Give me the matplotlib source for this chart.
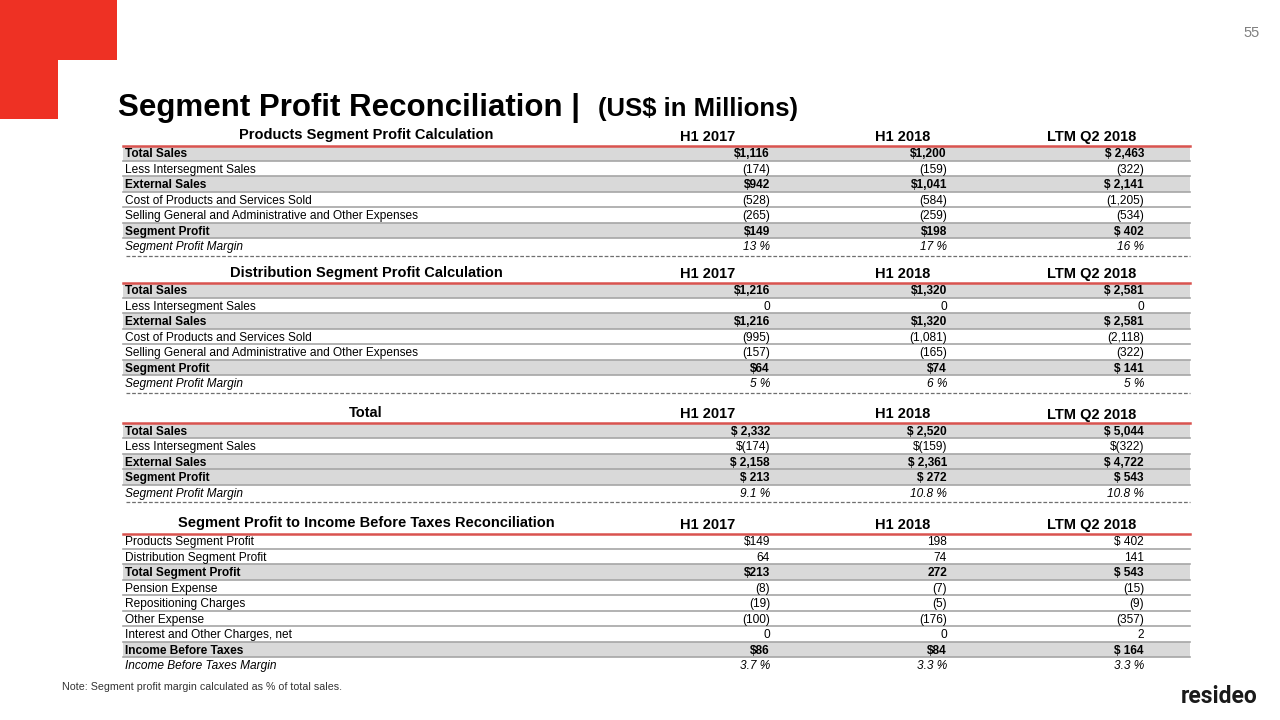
import matplotlib.pyplot as plt
from matplotlib.patches import Polygon, Rectangle

plt.rcParams["font.family"] = ["Liberation Sans", "DejaVu Sans"]

col_headers = ["H1 2017", "H1 2018", "LTM Q2 2018"]

products_title = "Products Segment Profit Calculation"
products_labels = ["Total Sales", "Less Intersegment Sales", "External Sales",
                   "Cost of Products and Services Sold",
                   "Selling General and Administrative and Other Expenses",
                   "Segment Profit", "Segment Profit Margin"]
products_h1_2017 = ["$1,116", "(174)", "$942", "(528)", "(265)", "$149", "13 %"]
products_h1_2018 = ["$1,200", "(159)", "$1,041", "(584)", "(259)", "$198", "17 %"]
products_ltm = ["$ 2,463", "(322)", "$ 2,141", "(1,205)", "(534)", "$ 402", "16 %"]

distribution_title = "Distribution Segment Profit Calculation"
distribution_labels = products_labels
distribution_h1_2017 = ["$1,216", "0", "$1,216", "(995)", "(157)", "$64", "5 %"]
distribution_h1_2018 = ["$1,320", "0", "$1,320", "(1,081)", "(165)", "$74", "6 %"]
distribution_ltm = ["$ 2,581", "0", "$ 2,581", "(2,118)", "(322)", "$ 141", "5 %"]

total_title = "Total"
total_labels = ["Total Sales", "Less Intersegment Sales", "External Sales",
                "Segment Profit", "Segment Profit Margin"]
total_h1_2017 = ["$ 2,332", "$(174)", "$ 2,158", "$ 213", "9.1 %"]
total_h1_2018 = ["$ 2,520", "$(159)", "$ 2,361", "$ 272", "10.8 %"]
total_ltm = ["$ 5,044", "$(322)", "$ 4,722", "$ 543", "10.8 %"]

recon_title = "Segment Profit to Income Before Taxes Reconciliation"
recon_labels = ["Products Segment Profit", "Distribution Segment Profit",
                "Total Segment Profit", "Pension Expense", "Repositioning Charges",
                "Other Expense", "Interest and Other Charges, net",
                "Income Before Taxes", "Income Before Taxes Margin"]
recon_h1_2017 = ["$149", "64", "$213", "(8)", "(19)", "(100)", "0", "$86", "3.7 %"]
recon_h1_2018 = ["198", "74", "272", "(7)", "(5)", "(176)", "0", "$84", "3.3 %"]
recon_ltm = ["$ 402", "141", "$ 543", "(15)", "(9)", "(357)", "2", "$ 164", "3.3 %"]

# Estilo das linhas: b = negrito/sombreado, n = normal, i = itálico
products_kind = ["b", "n", "b", "n", "n", "b", "i"]
distribution_kind = products_kind
total_kind = ["b", "n", "b", "b", "i"]
recon_kind = ["n", "n", "b", "n", "n", "n", "n", "b", "i"]

sections = [
    (products_title, products_labels, [products_h1_2017, products_h1_2018, products_ltm], products_kind),
    (distribution_title, distribution_labels, [distribution_h1_2017, distribution_h1_2018, distribution_ltm], distribution_kind),
    (total_title, total_labels, [total_h1_2017, total_h1_2018, total_ltm], total_kind),
    (recon_title, recon_labels, [recon_h1_2017, recon_h1_2018, recon_ltm], recon_kind),
]

# Layout em pixels
W, H = 1280, 720
x_left, x_right = 123, 1190
row_h = 15.45
section_tops = [145.5, 282.5, 423.0, 533.5]
col_right = [770, 947, 1144]
col_center = [708, 903, 1092]
title_cx = 366
fs_row = 8.6
fs_head = 10.5

fig = plt.figure(figsize=(W / 100, H / 100), dpi=100)
ax = fig.add_axes([0, 0, 1, 1])
ax.set_xlim(0, W)
ax.set_ylim(H, 0)
ax.axis("off")

# Marca vermelha no canto
ax.add_patch(Polygon([(0, 0), (117, 0), (117, 60), (58, 60), (58, 119), (0, 119)],
                     closed=True, facecolor="#EE3124", edgecolor="none"))

ax.text(1260, 33, "55", fontsize=10.5, color="#7f7f7f", ha="right", va="center")

ax.text(118, 116, "Segment Profit Reconciliation |", fontsize=22.5, fontweight="bold",
        ha="left", va="baseline", color="black")
ax.text(598, 116, "(US$ in Millions)", fontsize=18.5, fontweight="bold",
        ha="left", va="baseline", color="black")

for s, (title, labels, cols, kinds) in enumerate(sections):
    top = section_tops[s]
    ax.text(title_cx, top - 6, title, fontsize=fs_head, fontweight="bold",
            ha="center", va="baseline")
    for c, head in enumerate(col_headers):
        ax.text(col_center[c], top - 4.5, head, fontsize=fs_head, fontweight="bold",
                ha="center", va="baseline")

    n = len(labels)
    for i in range(n):
        y0 = top + i * row_h
        yb = y0 + row_h / 2 + 4.2
        kind = kinds[i]
        if kind == "b":
            ax.add_patch(Rectangle((x_left, y0), x_right - x_left, row_h,
                                   facecolor="#D9D9D9", edgecolor="none", zorder=0))
        weight = "bold" if kind == "b" else "normal"
        style = "italic" if kind == "i" else "normal"
        ax.text(x_left + 2, yb, labels[i], fontsize=fs_row, fontweight=weight,
                fontstyle=style, ha="left", va="baseline")
        for c in range(3):
            ax.text(col_right[c], yb, cols[c][i], fontsize=fs_row, fontweight=weight,
                    fontstyle=style, ha="right", va="baseline")
        if i < n - 1:
            ax.plot([x_left, x_right], [y0 + row_h, y0 + row_h],
                    color="#A6A6A6", lw=1.2, zorder=1)

    ax.plot([x_left, x_right], [top, top], color="#D9534F", lw=1.8, zorder=2)
    if s < len(sections) - 1:
        yd = top + n * row_h + 2
        ax.plot([x_left + 3, x_right], [yd, yd], color="#6f6f6f", lw=0.9,
                ls=(0, (3, 1.5)))

ax.text(62, 690, "Note: Segment profit margin calculated as % of total sales.",
        fontsize=7.7, color="#333333", ha="left", va="baseline")

ax.text(1258, 703, "resideo", fontsize=16.5, fontweight="bold", color="#1a1a1a",
        ha="right", va="baseline", family=["Roboto", "DejaVu Sans"])

fig.savefig("out.png", dpi=100, facecolor="white")
plt.close(fig)
